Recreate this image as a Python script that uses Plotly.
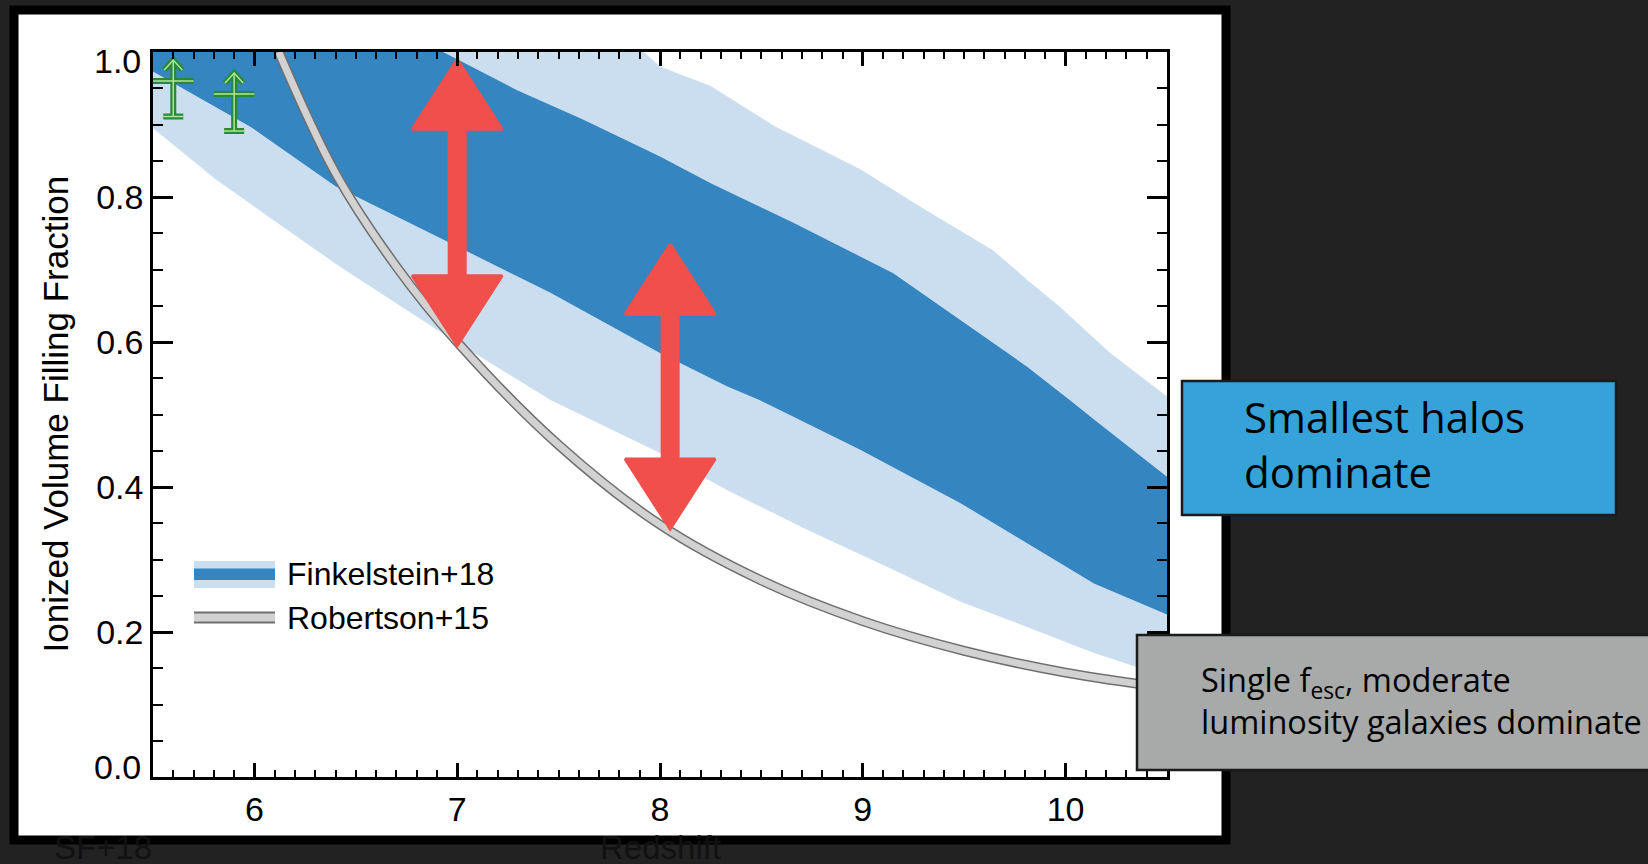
import plotly.graph_objects as go

# ---- Finkelstein+18 ionized-fraction bands (redshift, Q) ----
light_hi_z = [5.5, 7.92, 8.0, 8.25, 8.57, 8.99, 9.31, 9.64, 9.81, 9.97, 10.22, 10.5]
light_hi_q = [1.0, 1.0, 0.980, 0.953, 0.897, 0.838, 0.782, 0.727, 0.686, 0.649, 0.585, 0.525]
light_lo_z = [5.5, 5.81, 6.42, 6.95, 7.46, 8.0, 8.33, 8.71, 9.15, 9.48, 9.81, 10.14, 10.35, 10.5]
light_lo_q = [0.895, 0.824, 0.704, 0.608, 0.520, 0.447, 0.396, 0.343, 0.286, 0.242, 0.207, 0.171, 0.152, 0.138]
dark_hi_z = [5.5, 6.93, 7.0, 7.29, 7.62, 8.0, 8.25, 8.66, 9.15, 9.48, 9.81, 10.02, 10.14, 10.5]
dark_hi_q = [1.0, 1.0, 0.99, 0.948, 0.907, 0.856, 0.819, 0.764, 0.695, 0.631, 0.566, 0.520, 0.493, 0.414]
dark_lo_z = [5.5, 5.98, 6.40, 6.96, 7.46, 8.0, 8.33, 8.49, 8.99, 9.48, 9.81, 10.14, 10.5]
dark_lo_q = [0.973, 0.897, 0.815, 0.737, 0.668, 0.585, 0.539, 0.520, 0.451, 0.378, 0.322, 0.267, 0.224]

# ---- Robertson+15 reionization history ----
rob_z = [6.12, 6.4, 6.7, 7.0, 7.5, 8.0, 8.5, 9.0, 9.5, 10.0, 10.5]
rob_q = [1.0, 0.833, 0.704, 0.600, 0.458, 0.348, 0.271, 0.215, 0.174, 0.144, 0.123]

# ---- lower limits (green) ----
lim_z = [5.6, 5.9]
lim_dz = [0.1, 0.1]
lim_q = [0.960, 0.942]
lim_q_lo = [0.911, 0.891]

# ---- shift arrows (red) ----
shift_z = [7.0, 8.05]
shift_hi = [0.990, 0.735]
shift_lo = [0.595, 0.342]

# tick labels
x_ticks = [6, 7, 8, 9, 10]
y_ticks = [0.2, 0.4, 0.6, 0.8]
y_end_ticks = [0.0, 1.0]

# ---- page geometry (pixels) ----
W, H = 1648, 864
L, R, T, B = 153, 1167, 52, 777
XR = (5.5, 10.5)
YR = (0.0, 1.0)
SX = (XR[1] - XR[0]) / (R - L)   # data units per pixel
SY = (YR[1] - YR[0]) / (B - T)


def px(x):
    return (x - L) / (R - L)


def py(y):
    return (B - y) / (B - T)


AXFONT = "Liberation Sans, Arial, sans-serif"
BOXFONT = "Open Sans, sans-serif"
LIGHT = "#cbdeef"
DARK = "#3585c0"
RED = "#f04f4b"
GREY_EDGE = "#6f6f6f"
GREY_FILL = "#d2d2d2"

fig = go.Figure()

# 95% band
fig.add_trace(go.Scatter(
    x=light_hi_z + light_lo_z[::-1], y=light_hi_q + light_lo_q[::-1],
    fill="toself", fillcolor=LIGHT, line=dict(width=0), mode="lines",
    hoverinfo="skip", showlegend=False))
# 68% band
fig.add_trace(go.Scatter(
    x=dark_hi_z + dark_lo_z[::-1], y=dark_hi_q + dark_lo_q[::-1],
    fill="toself", fillcolor=DARK, line=dict(width=0), mode="lines",
    hoverinfo="skip", showlegend=False))

# Robertson+15: outlined grey ribbon
fig.add_trace(go.Scatter(x=rob_z, y=rob_q, mode="lines",
                         line=dict(color=GREY_EDGE, width=10, shape="spline", smoothing=1.0),
                         hoverinfo="skip", showlegend=False))
fig.add_trace(go.Scatter(x=rob_z, y=rob_q, mode="lines",
                         line=dict(color=GREY_FILL, width=7, shape="spline", smoothing=1.0),
                         hoverinfo="skip", showlegend=False))

# red double-headed arrows
HEAD_L, HEAD_W, SHAFT_W = 70, 45, 8
for z, hi, lo in zip(shift_z, shift_hi, shift_lo):
    hl, hw, sw = HEAD_L * SY, HEAD_W * SX, SHAFT_W * SX
    xs = [z, z + hw, z + sw, z + sw, z + hw, z, z - hw, z - sw, z - sw, z - hw, z]
    ys = [hi, hi - hl, hi - hl, lo + hl, lo + hl, lo, lo + hl, lo + hl, hi - hl, hi - hl, hi]
    fig.add_trace(go.Scatter(x=xs, y=ys, fill="toself", fillcolor=RED, mode="lines",
                             line=dict(color=RED, width=3), hoverinfo="skip", showlegend=False))

# green lower limits: cross-bar, lower error cap and upward arrow
gx, gy = [], []
for z, dz, q, qlo in zip(lim_z, lim_dz, lim_q, lim_q_lo):
    tip = q + 21 * SY
    cap = 10 * SX
    gx += [z - dz, z + dz, None, z, z, None, z - cap, z + cap, None,
           z - 9 * SX, z, z + 9 * SX, None]
    gy += [q, q, None, qlo, tip, None, qlo, qlo, None,
           tip - 10 * SY, tip, tip - 10 * SY, None]
fig.add_trace(go.Scatter(x=gx, y=gy, mode="lines", line=dict(color="#278a3a", width=6),
                         hoverinfo="skip", showlegend=False))
fig.add_trace(go.Scatter(x=gx, y=gy, mode="lines", line=dict(color="#b3e39a", width=1.5),
                         hoverinfo="skip", showlegend=False))

shapes = []
# white card with heavy black frame
shapes.append(dict(type="rect", xref="paper", yref="paper", layer="below",
                   x0=px(14), x1=px(1226), y0=py(10), y1=py(840),
                   fillcolor="white", line=dict(color="black", width=9)))
# legend swatches
shapes.append(dict(type="rect", xref="paper", yref="paper", layer="above",
                   x0=px(194), x1=px(275), y0=py(561), y1=py(588),
                   fillcolor=LIGHT, line=dict(width=0)))
shapes.append(dict(type="rect", xref="paper", yref="paper", layer="above",
                   x0=px(194), x1=px(275), y0=py(568.5), y1=py(580),
                   fillcolor=DARK, line=dict(width=0)))
shapes.append(dict(type="rect", xref="paper", yref="paper", layer="above",
                   x0=px(194), x1=px(275), y0=py(612.5), y1=py(622.5),
                   fillcolor=GREY_FILL, line=dict(width=0)))
for yy in (612.5, 622.5):
    shapes.append(dict(type="line", xref="paper", yref="paper", layer="above",
                       x0=px(194), x1=px(275), y0=py(yy), y1=py(yy),
                       line=dict(color=GREY_EDGE, width=1.8)))
# annotation boxes
shapes.append(dict(type="rect", xref="paper", yref="paper", layer="above",
                   x0=px(1182), x1=px(1616), y0=py(381), y1=py(515),
                   fillcolor="#35a3da", line=dict(color="#1b1b1b", width=2.5)))
shapes.append(dict(type="rect", xref="paper", yref="paper", layer="above",
                   x0=px(1137), x1=px(1662), y0=py(635), y1=py(770),
                   fillcolor="#a7aaa9", line=dict(color="#1b1b1b", width=2.5)))

annotations = [
    dict(text="Ionized Volume Filling Fraction", textangle=-90, x=px(55), y=py(414.5),
         xref="paper", yref="paper", showarrow=False, xanchor="center", yanchor="middle",
         font=dict(family=AXFONT, size=35, color="black")),
    dict(text="Finkelstein+18", x=px(285), y=py(574), xref="paper", yref="paper",
         showarrow=False, xanchor="left", yanchor="middle",
         font=dict(family=AXFONT, size=32, color="black")),
    dict(text="Robertson+15", x=px(285), y=py(618), xref="paper", yref="paper",
         showarrow=False, xanchor="left", yanchor="middle",
         font=dict(family=AXFONT, size=32, color="black")),
    dict(text="Smallest halos<br>dominate", x=px(1242), y=py(444), xref="paper", yref="paper",
         showarrow=False, xanchor="left", yanchor="middle", align="left",
         font=dict(family=BOXFONT, size=42, color="black")),
    dict(text="Single f<sub>esc</sub>, moderate<br>luminosity galaxies dominate",
         x=px(1199), y=py(700), xref="paper", yref="paper",
         showarrow=False, xanchor="left", yanchor="middle", align="left",
         font=dict(family=BOXFONT, size=32.5, color="black")),
    dict(text="SF+18", x=px(103), y=py(847), xref="paper", yref="paper",
         showarrow=False, xanchor="center", yanchor="middle",
         font=dict(family=AXFONT, size=33, color="#111111")),
    dict(text="Redshift", x=px(660), y=py(847), xref="paper", yref="paper",
         showarrow=False, xanchor="center", yanchor="middle",
         font=dict(family=AXFONT, size=33, color="#111111")),
]
# end labels of the y axis sit just inside the frame
for v, ypix in zip(y_end_ticks, (767, 61)):
    annotations.append(dict(text=f"{v:.1f}", x=px(143), y=py(ypix), xref="paper", yref="paper",
                            showarrow=False, xanchor="right", yanchor="middle",
                            font=dict(family=AXFONT, size=34, color="black")))

axis_common = dict(showgrid=False, zeroline=False, showline=True, linecolor="black",
                   linewidth=2.5, mirror="allticks", ticks="inside", tickcolor="black",
                   tickwidth=2.5, tickfont=dict(family=AXFONT, size=34, color="black"))

fig.update_layout(
    width=W, height=H,
    margin=dict(l=L, r=W - R, t=T, b=H - B, pad=0),
    paper_bgcolor="#222222", plot_bgcolor="white",
    showlegend=False,
    xaxis=dict(range=list(XR), tickmode="array", tickvals=x_ticks,
               ticktext=[str(v) for v in x_ticks], ticklen=14,
               minor=dict(dtick=0.1, tick0=5.5, ticks="inside", ticklen=7, tickwidth=2,
                          tickcolor="black", showgrid=False),
               **axis_common),
    yaxis=dict(range=list(YR), tickmode="array", tickvals=y_ticks,
               ticktext=[f"{v:.1f}" for v in y_ticks], ticklen=20,
               minor=dict(dtick=0.05, tick0=0, ticks="inside", ticklen=10, tickwidth=2,
                          tickcolor="black", showgrid=False),
               **axis_common),
    shapes=shapes, annotations=annotations,
)

fig.write_html("out.html")
